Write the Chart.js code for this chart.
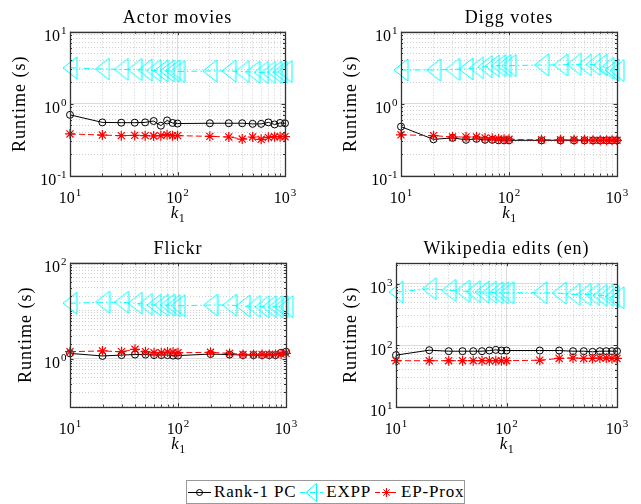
<!DOCTYPE html>
<html>
<head>
<meta charset="utf-8">
<title>Runtime vs k1</title>
<script src="https://cdn.jsdelivr.net/npm/chart.js@4.4.1/dist/chart.umd.min.js"></script>
<style>
  html, body { margin: 0; padding: 0; background: #fff; }
  body { width: 641px; height: 504px; position: relative; overflow: hidden; }
  canvas { position: absolute; }
  #legend {
    position: absolute; left: 186px; top: 480px; width: 279px; height: 24px;
    border: 1px solid #999; box-sizing: border-box; background: #fff;
    display: flex; align-items: center;
    font: 17px "Liberation Serif", serif; letter-spacing: 0.8px; color: #000;
  }
  #legend svg { flex: none; }
  #legend span { margin-left: 3px; margin-right: 4px; white-space: nowrap; }
</style>
</head>
<body>
<canvas id="c0" width="320" height="230" style="left:0;top:0"></canvas>
<canvas id="c1" width="310" height="230" style="left:331px;top:0"></canvas>
<canvas id="c2" width="320" height="230" style="left:0;top:231px"></canvas>
<canvas id="c3" width="310" height="230" style="left:331px;top:231px"></canvas>

<div id="legend">
  <svg width="23" height="20" style="margin-left:1px"><line x1="0" y1="10.5" x2="23" y2="10.5" stroke="#000"/><circle cx="11.5" cy="10.5" r="3" fill="none" stroke="#000"/></svg><span>Rank-1 PC</span>
  <svg width="23" height="20"><line x1="0" y1="10.5" x2="23" y2="10.5" stroke="#00ffff" stroke-dasharray="5 2 1 2"/><polygon points="6,10.5 16.5,1.5 16.5,19.5" fill="none" stroke="#00ffff"/></svg><span>EXPP</span>
  <svg width="23" height="20"><line x1="0" y1="10.5" x2="23" y2="10.5" stroke="#ff0000" stroke-dasharray="5 3"/><g stroke="#ff0000"><line x1="11.5" y1="6" x2="11.5" y2="15"/><line x1="7" y1="10.5" x2="16" y2="10.5"/><line x1="8.3" y1="7.3" x2="14.7" y2="13.7"/><line x1="8.3" y1="13.7" x2="14.7" y2="7.3"/></g></svg><span>EP-Prox</span>
</div>

<script>
// k1 values (x axis)
const K1 = [10, 20, 30, 40, 50, 60, 70, 80, 90, 100, 200, 300, 400, 500, 600, 700, 800, 900, 1000];
const SERIES = ['Rank-1 PC', 'EXPP', 'EP-Prox'];
const TITLES = ['Actor movies', 'Digg votes', 'Flickr', 'Wikipedia edits (en)'];

// runtimes in seconds
const actorRank1 = [0.70, 0.55, 0.545, 0.545, 0.55, 0.575, 0.495, 0.585, 0.54, 0.53, 0.535, 0.535, 0.535, 0.525, 0.525, 0.55, 0.515, 0.54, 0.535];
const actorEXPP  = [3.15, 3.03, 3.0, 2.98, 2.94, 2.88, 2.85, 2.85, 2.85, 2.8, 2.85, 2.85, 2.8, 2.75, 2.72, 2.72, 2.75, 2.75, 2.8];
const actorEP    = [0.38, 0.367, 0.36, 0.363, 0.36, 0.356, 0.36, 0.371, 0.36, 0.36, 0.352, 0.345, 0.323, 0.345, 0.32, 0.341, 0.348, 0.348, 0.348];

const diggRank1 = [0.48, 0.32, 0.335, 0.315, 0.325, 0.315, 0.315, 0.31, 0.31, 0.31, 0.31, 0.31, 0.31, 0.31, 0.31, 0.31, 0.31, 0.31, 0.31];
const diggEXPP  = [2.94, 2.94, 3.0, 3.03, 3.16, 3.27, 3.34, 3.38, 3.38, 3.38, 3.45, 3.45, 3.52, 3.45, 3.52, 3.45, 3.1, 2.94, 2.88];
const diggEP    = [0.37, 0.36, 0.345, 0.345, 0.345, 0.335, 0.33, 0.325, 0.32, 0.32, 0.315, 0.315, 0.315, 0.315, 0.31, 0.31, 0.31, 0.31, 0.31];

const flickrRank1 = [1.29, 1.14, 1.19, 1.22, 1.22, 1.19, 1.19, 1.19, 1.16, 1.16, 1.25, 1.22, 1.19, 1.19, 1.19, 1.19, 1.19, 1.33, 1.40];
const flickrEXPP  = [14.3, 15.0, 15.0, 14.3, 13.6, 13.1, 13.1, 13.1, 12.7, 12.7, 13.1, 13.1, 12.5, 12.3, 12.1, 12.1, 12.1, 12.1, 12.1];
const flickrEP    = [1.40, 1.45, 1.40, 1.57, 1.40, 1.33, 1.33, 1.38, 1.36, 1.33, 1.36, 1.29, 1.23, 1.23, 1.23, 1.23, 1.23, 1.25, 1.29];

const wikiRank1 = [69, 83, 80, 80, 80, 80, 82, 84, 82, 82, 82, 82, 80, 80, 78, 80, 80, 80, 80];
const wikiEXPP  = [730, 830, 780, 757, 745, 730, 730, 713, 713, 713, 713, 705, 670, 670, 670, 646, 646, 621, 592];
const wikiEP    = [56, 56, 56, 56, 56, 56, 56, 56, 56, 56, 57, 61, 62, 61, 61, 62, 62, 61, 61];

// axis ticks (grid lines) and labelled decades
const X_GRID = K1;
const X_LABELS = [10, 100, 1000];
const Y_GRID_SMALL = [0.1, 0.2, 0.3, 0.4, 0.5, 0.6, 0.7, 0.8, 0.9, 1, 2, 3, 4, 5, 6, 7, 8, 9, 10];
const Y_LABELS_SMALL = [0.1, 1, 10];
const Y_GRID_FLICKR = [0.1, 0.2, 0.3, 0.4, 0.5, 0.6, 0.7, 0.8, 0.9, 1, 2, 3, 4, 5, 6, 7, 8, 9, 10, 20, 30, 40, 50, 60, 70, 80, 90, 100];
const Y_LABELS_FLICKR = [1, 100];
const Y_GRID_WIKI = [10, 20, 30, 40, 50, 60, 70, 80, 90, 100, 200, 300, 400, 500, 600, 700, 800, 900, 1000, 2000];
const Y_LABELS_WIKI = [10, 100, 1000];

Chart.defaults.font.family = '"Liberation Serif", "Times New Roman", serif';
Chart.defaults.color = '#000';

// left-pointing open triangle like matlab '<'
function triangleMarker(w, h, color) {
  const c = document.createElement('canvas');
  c.width = w + 2; c.height = h + 2;
  const g = c.getContext('2d');
  g.strokeStyle = color; g.lineWidth = 1;
  g.beginPath();
  g.moveTo(1, 1 + h / 2); g.lineTo(1 + w, 1); g.lineTo(1 + w, 1 + h); g.closePath();
  g.stroke();
  return c;
}
const TRI = triangleMarker(14, 22, '#00ffff');

// box, inward ticks and 10^n labels
const matlabAxes = {
  id: 'matlabAxes',
  beforeDraw(chart) { chart.ctx.letterSpacing = '1px'; },
  afterDraw(chart, args, o) {
    const {ctx, chartArea: a, scales: {x, y}} = chart;
    ctx.save();
    ctx.letterSpacing = '0px';
    ctx.strokeStyle = '#333';
    ctx.lineWidth = 1;
    ctx.beginPath();
    x.ticks.forEach(t => {
      const px = Math.round(x.getPixelForValue(t.value)) + 0.5;
      const len = o.xLabels.includes(t.value) ? 3.5 : 2;
      ctx.moveTo(px, a.bottom); ctx.lineTo(px, a.bottom - len);
      ctx.moveTo(px, a.top); ctx.lineTo(px, a.top + len);
    });
    y.ticks.forEach(t => {
      const py = Math.round(y.getPixelForValue(t.value)) + 0.5;
      const len = o.yLabels.includes(t.value) ? 3.5 : 2;
      ctx.moveTo(a.left, py); ctx.lineTo(a.left + len, py);
      ctx.moveTo(a.right, py); ctx.lineTo(a.right - len, py);
    });
    ctx.stroke();
    ctx.lineWidth = 1.3;
    ctx.strokeRect(Math.round(a.left) + 0.5, Math.round(a.top) + 0.5,
      Math.round(a.right) - Math.round(a.left), Math.round(a.bottom) - Math.round(a.top));

    ctx.fillStyle = '#000';
    const pow = (v, xAnchor, yBase, align) => {
      const e = String(Math.round(Math.log10(v)));
      ctx.font = '16px "Liberation Serif"';
      const wb = ctx.measureText('10').width;
      ctx.font = '11px "Liberation Serif"';
      const we = ctx.measureText(e).width + 1;
      const left = align === 'center' ? xAnchor - (wb + we) / 2 : xAnchor - wb - we;
      ctx.textAlign = 'left';
      ctx.textBaseline = 'alphabetic';
      ctx.font = '16px "Liberation Serif"';
      ctx.fillText('10', left, yBase);
      ctx.font = '11px "Liberation Serif"';
      ctx.fillText(e, left + wb + 1, yBase - 7);
    };
    o.xLabels.forEach(v => pow(v, x.getPixelForValue(v), a.bottom + 27, 'center'));
    o.yLabels.forEach(v => pow(v, a.left - 3.5, y.getPixelForValue(v) + 9.5, 'right'));

    // x axis title: k_1
    const cx = (a.left + a.right) / 2;
    ctx.font = 'italic 17px "Liberation Serif"';
    const wk = ctx.measureText('k').width;
    ctx.font = '12px "Liberation Serif"';
    const w1 = ctx.measureText('1').width;
    const kx = cx - (wk + w1) / 2;
    ctx.font = 'italic 17px "Liberation Serif"';
    ctx.fillText('k', kx, a.bottom + 42.5);
    ctx.font = '12px "Liberation Serif"';
    ctx.fillText('1', kx + wk + 0.5, a.bottom + 46.5);
    ctx.restore();
  }
};

function series(vals) {
  return K1.map((k, i) => ({x: k, y: vals[i]}));
}

function makeChart(id, g) {
  const majorsY = g.yLabels;
  const majorsX = X_LABELS;
  return new Chart(document.getElementById(id), {
    type: 'line',
    data: {
      datasets: [
        {
          label: SERIES[0], data: series(g.rank1), order: 3,
          borderColor: '#000', borderWidth: 1, tension: 0, clip: false,
          pointStyle: 'circle', pointRadius: 3.5, pointBorderWidth: 1,
          pointBorderColor: '#000', pointBackgroundColor: 'rgba(0,0,0,0)'
        },
        {
          label: SERIES[1], data: series(g.expp), order: 2,
          borderColor: '#00ffff', borderWidth: 1, borderDash: [6, 3, 1.5, 3], tension: 0, clip: false,
          pointStyle: TRI, pointRadius: 10, pointBorderColor: '#00ffff', pointBackgroundColor: 'rgba(0,0,0,0)'
        },
        {
          label: SERIES[2], data: series(g.ep), order: 1,
          borderColor: '#ff0000', borderWidth: 1, borderDash: [6, 3], tension: 0, clip: false,
          pointStyle: 'star', pointRadius: 5, pointBorderWidth: 1.2,
          pointBorderColor: '#ff0000', pointBackgroundColor: 'rgba(0,0,0,0)'
        }
      ]
    },
    options: {
      responsive: false,
      animation: false,
      events: [],
      layout: {padding: {left: 0, right: g.padR, top: 0, bottom: 4.3}},
      plugins: {
        legend: {display: false},
        tooltip: {enabled: false},
        title: {
          display: true, fullSize: false, text: g.title, color: '#000',
          font: {size: 18, weight: 'normal'},
          padding: {top: 7, bottom: 3.1}
        },
        matlabAxes: {xLabels: X_LABELS, yLabels: g.yLabels}
      },
      scales: {
        x: {
          type: 'logarithmic', min: 10, max: 1000,
          afterBuildTicks: s => { s.ticks = X_GRID.map(v => ({value: v})); },
          afterFit: s => { s.height = 50; },
          ticks: {display: false},
          grid: {
            drawTicks: false, lineWidth: 1,
            color: c => c.tick && majorsX.includes(c.tick.value) ? '#dcdcdc' : '#cfcfcf'
          },
          border: {display: false, dash: c => c.tick && !majorsX.includes(c.tick.value) ? [1, 2] : []}
        },
        y: {
          type: 'logarithmic', min: g.yMin, max: g.yMax,
          afterBuildTicks: s => { s.ticks = g.yGrid.map(v => ({value: v})); },
          afterFit: s => { s.width = g.yW; },
          ticks: {display: false},
          title: {
            display: true, text: 'Runtime (s)', color: '#000',
            font: {size: 18, weight: 'normal'},
            padding: {top: g.yTitleC - 10.8, bottom: 0}
          },
          grid: {
            drawTicks: false, lineWidth: 1,
            color: c => c.tick && majorsY.includes(c.tick.value) ? '#dcdcdc' : '#cfcfcf'
          },
          border: {display: false, dash: c => c.tick && !majorsY.includes(c.tick.value) ? [1, 2] : []}
        }
      }
    },
    plugins: [matlabAxes]
  });
}

makeChart('c0', {title: TITLES[0], rank1: actorRank1, expp: actorEXPP, ep: actorEP,
  yMin: 0.1, yMax: 10, yGrid: Y_GRID_SMALL, yLabels: Y_LABELS_SMALL, yW: 70, padR: 35, yTitleC: 20});
makeChart('c1', {title: TITLES[1], rank1: diggRank1, expp: diggEXPP, ep: diggEP,
  yMin: 0.1, yMax: 10, yGrid: Y_GRID_SMALL, yLabels: Y_LABELS_SMALL, yW: 70, padR: 24, yTitleC: 20});
makeChart('c2', {title: TITLES[2], rank1: flickrRank1, expp: flickrEXPP, ep: flickrEP,
  yMin: 0.1, yMax: 100, yGrid: Y_GRID_FLICKR, yLabels: Y_LABELS_FLICKR, yW: 70, padR: 34, yTitleC: 26.5});
makeChart('c3', {title: TITLES[3], rank1: wikiRank1, expp: wikiEXPP, ep: wikiEP,
  yMin: 10, yMax: 2200, yGrid: Y_GRID_WIKI, yLabels: Y_LABELS_WIKI, yW: 65, padR: 24, yTitleC: 20.5});
</script>
</body>
</html>
